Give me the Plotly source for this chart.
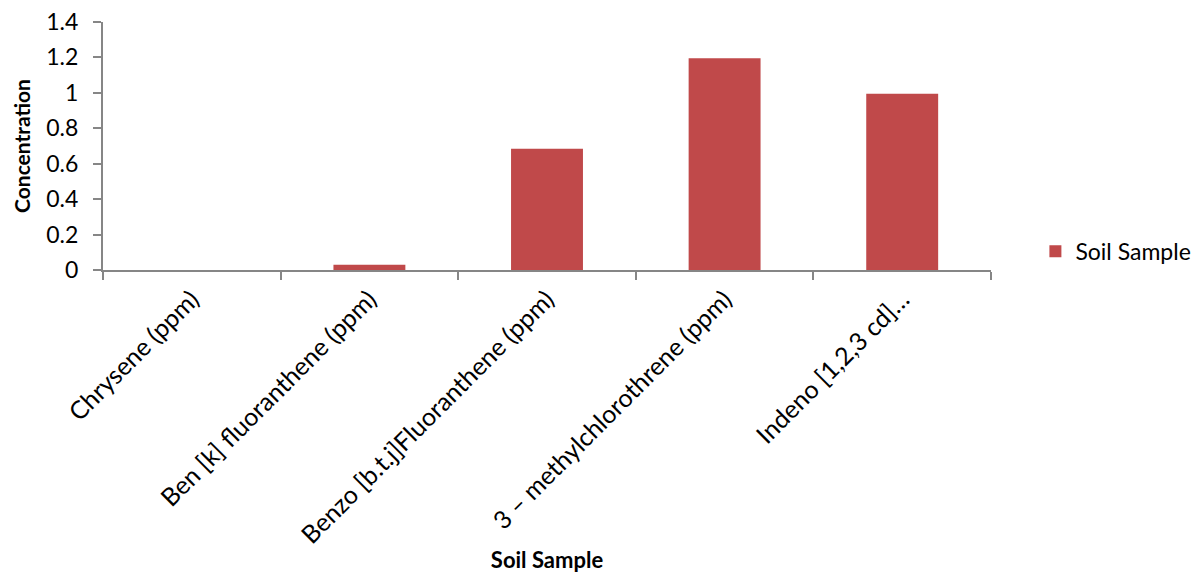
import plotly.graph_objects as go

# PAH concentrations measured in the soil sample
compounds = [
    "Chrysene (ppm)",
    "Ben [k] fluoranthene (ppm)",
    "Benzo [b.t.j]Fluoranthene (ppm)",
    "3 \u2013 methylchlorothrene (ppm)",
    "Indeno [1,2,3 cd]\u2026",
]
concentration = [0.0, 0.03, 0.685, 1.195, 0.995]
y_ticks = [0, 0.2, 0.4, 0.6, 0.8, 1, 1.2, 1.4]
y_tick_text = ["0", "0.2", "0.4", "0.6", "0.8", "1", "1.2", "1.4"]

FONT = "Lato, Calibri, Carlito, sans-serif"
AXIS_GREY = "#868686"

fig = go.Figure()
fig.add_trace(go.Bar(
    x=compounds,
    y=concentration,
    name="Soil Sample",
    marker=dict(color="#c0494a", line=dict(width=0)),
    showlegend=True,
))

fig.update_layout(
    width=1198,
    height=573,
    margin=dict(l=103, r=207, t=22, b=303, autoexpand=False),
    paper_bgcolor="white",
    plot_bgcolor="white",
    bargap=0.595,
    font=dict(family=FONT, size=23, color="#000000"),
    showlegend=True,
    legend=dict(
        x=1.05, y=0.075, xanchor="left", yanchor="middle",
        font=dict(family=FONT, size=23, color="#000000"),
        itemwidth=30,
        bgcolor="rgba(0,0,0,0)",
    ),
    xaxis=dict(
        type="category",
        tickangle=-45,
        automargin=False,
        showline=True, linecolor=AXIS_GREY, linewidth=2,
        ticks="outside", ticklen=8, tickcolor=AXIS_GREY, tickwidth=2,
        tickson="boundaries",
        ticklabelstandoff=3,
        showgrid=False,
        tickfont=dict(family=FONT, size=25),
        title=dict(text="<b>Soil Sample</b>", font=dict(family=FONT, size=22), standoff=6),
    ),
    yaxis=dict(
        range=[0, 1.4],
        automargin=False,
        tickvals=y_ticks, ticktext=y_tick_text,
        showline=True, linecolor=AXIS_GREY, linewidth=2,
        ticks="outside", ticklen=8, tickcolor=AXIS_GREY, tickwidth=2,
        ticklabelstandoff=10,
        showgrid=False, zeroline=False,
        tickfont=dict(family=FONT, size=23),
        title=dict(text="<b>Concentration</b>", font=dict(family=FONT, size=21), standoff=10),
    ),
)

fig.write_html("out.html")
